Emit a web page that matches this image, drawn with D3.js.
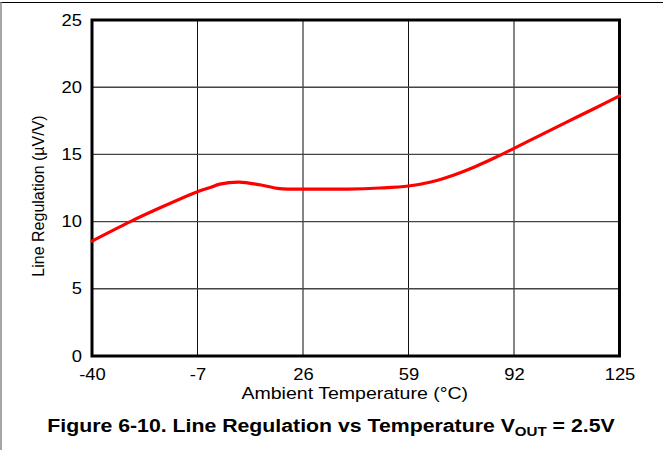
<!DOCTYPE html>
<html><head><meta charset="utf-8">
<script src="https://cdn.jsdelivr.net/npm/d3@7"></script>
<style>body{margin:0;background:#fff}svg{display:block}</style>
</head><body>
<svg id="c" width="663" height="450"></svg>
<script>
const temps  = [-40, -28, -18, -7, -3, 0, 6, 12.5, 18.75, 26, 40, 50, 59, 66, 73, 80, 86, 92, 100, 108, 117, 125];
const values = [8.55, 10.0, 11.1, 12.22, 12.54, 12.79, 12.94, 12.74, 12.45, 12.42, 12.42, 12.5, 12.65, 12.95, 13.45, 14.1, 14.75, 15.45, 16.4, 17.35, 18.4, 19.35];
const xTicks = [-40, -7, 26, 59, 92, 125];
const yTicks = [0, 5, 10, 15, 20, 25];
const xTitle = "Ambient Temperature (°C)";
const yTitle = "Line Regulation (µV/V)";
const caption = "Figure 6-10. Line Regulation vs Temperature V";

const FONT = "Liberation Sans, Arial, sans-serif";
const svg = d3.select("#c");
const L = 92, R = 619.5, T = 20, B = 356;
const x = d3.scaleLinear().domain([-40, 125]).range([L, R]);
const y = d3.scaleLinear().domain([0, 25]).range([B, T]);

// outer frame
svg.append("line").attr("x1",0).attr("x2",663).attr("y1",2.5).attr("y2",2.5).attr("stroke","#000").attr("stroke-width",1.2);
svg.append("line").attr("x1",1).attr("x2",1).attr("y1",2).attr("y2",450).attr("stroke","#888").attr("stroke-width",1.5);

// grid
const g = svg.append("g");
xTicks.slice(1,-1).forEach((t,i)=>{
  g.append("line").attr("x1",x(t)).attr("x2",x(t)).attr("y1",T).attr("y2",B)
   .attr("stroke", i%2===0 ? "#111" : "#666").attr("stroke-width", i%2===0 ? 1 : 1.6);
});
yTicks.slice(1,-1).forEach(t=>{
  g.append("line").attr("x1",L).attr("x2",R).attr("y1",y(t)).attr("y2",y(t))
   .attr("stroke","#444").attr("stroke-width",1.4);
});

// axes labels via d3 axes (no tick lines)
const ax = svg.append("g").attr("transform",`translate(0,${B})`)
  .call(d3.axisBottom(x).tickValues(xTicks).tickSize(0).tickFormat(d=>String(d)));
ax.selectAll("text").attr("y",0).attr("dy",0)
  .attr("transform",function(){ return null; });
ax.selectAll(".tick").each(function(d){
  const t = d3.select(this).select("text");
  t.attr("transform",`translate(0,24) scale(1.15,1)`);
});
const ay = svg.append("g").attr("transform",`translate(${L},0)`)
  .call(d3.axisLeft(y).tickValues(yTicks).tickSize(0).tickPadding(10).tickFormat(d=>String(d)));
ay.selectAll("text").attr("x",0).attr("transform","translate(-10,0) scale(1.15,1)");
[ax, ay].forEach(a=>{
  a.select(".domain").remove();
  a.selectAll("text").attr("font-family",FONT).attr("font-size",16).attr("fill","#000");
});

// plot border
svg.append("rect").attr("x",L).attr("y",T).attr("width",R-L).attr("height",B-T)
  .attr("fill","none").attr("stroke","#000").attr("stroke-width",3);

// curve
const line = d3.line().x((d,i)=>x(temps[i])).y(d=>y(d)).curve(d3.curveCatmullRom.alpha(0.5));
svg.append("path").datum(values).attr("d",line).attr("fill","none")
  .attr("stroke","#ff0000").attr("stroke-width",3.2).attr("stroke-linecap","round");

// titles
svg.append("text").attr("transform",`translate(${(L+R)/2-1},398.5) scale(1.15,1)`).attr("text-anchor","middle")
  .attr("font-family",FONT).attr("font-size",17).text(xTitle);
svg.append("text").attr("transform",`translate(44,${(T+B)/2+8}) rotate(-90)`).attr("text-anchor","middle")
  .attr("font-family",FONT).attr("font-size",16).text(yTitle);
const cap = svg.append("text").attr("transform","translate(331,432) scale(1.12,1)").attr("text-anchor","middle")
  .attr("font-family",FONT).attr("font-size",19).attr("font-weight","bold");
cap.append("tspan").text(caption);
cap.append("tspan").attr("font-size",13.5).attr("dy",4).text("OUT");
cap.append("tspan").attr("dy",-4).text(" = 2.5V");
</script>
</body></html>
